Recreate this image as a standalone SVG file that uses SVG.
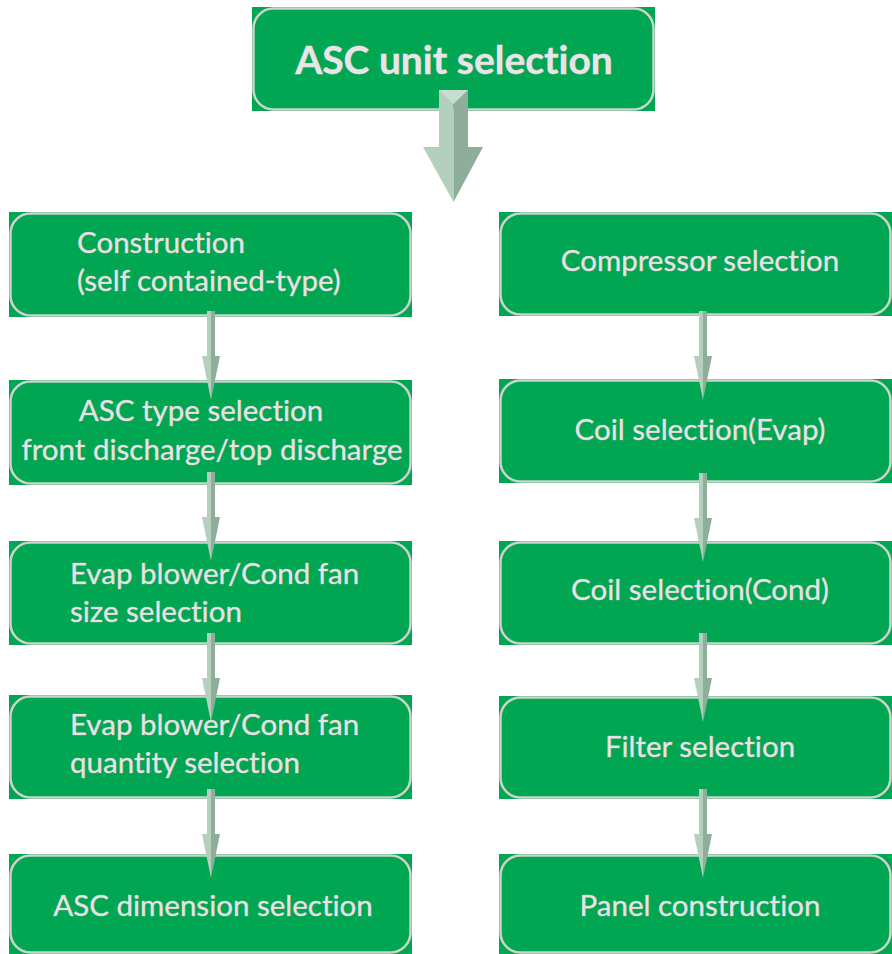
<svg xmlns="http://www.w3.org/2000/svg" xmlns:xlink="http://www.w3.org/1999/xlink" width="892" height="954" viewBox="0 0 892 954">
<style>
.bg{fill:#00a651}
.ol{fill:none;stroke:#cad3cc;stroke-width:2.5}
.t{font-family:Lato,"Open Sans","Liberation Sans",sans-serif;font-size:29.5px;fill:#e4e4e4;stroke:#aab3ad;stroke-width:0.6;paint-order:stroke;font-variant-ligatures:none}
.tb{font-family:Lato,"Open Sans","Liberation Sans",sans-serif;font-size:39px;font-weight:bold;fill:#e6e6e6;stroke:#a8b0aa;stroke-width:0.8;paint-order:stroke;font-variant-ligatures:none}
.al{fill:#b4cfbe}
.ad{fill:#8eae9a}
</style>
<defs>
<g id="sa">
<rect class="al" x="-4" y="0" width="4" height="45"/>
<rect class="ad" x="0" y="0" width="4" height="45"/>
<polygon class="al" points="-9,45 0,45 0,89"/>
<polygon class="ad" points="0,45 9,45 0,89"/>
</g>
</defs>
<g id="top">
<rect class="bg" x="252" y="7" width="403" height="104"/>
<rect class="ol" x="253.5" y="8.5" width="400" height="101" rx="20"/>
<text class="tb" x="454" y="74" text-anchor="middle">ASC unit selection</text>
</g>
<g id="n1">
<rect class="bg" x="9" y="212" width="403" height="105"/>
<rect class="ol" x="10.5" y="213.5" width="400" height="102" rx="20"/>
<text class="t" x="77" y="253">Construction</text>
<text class="t" x="77" y="291">(self contained-type)</text>
</g>
<g id="n2">
<rect class="bg" x="9" y="380" width="403" height="105"/>
<rect class="ol" x="10.5" y="381.5" width="400" height="102" rx="20"/>
<text class="t" x="201" y="421" text-anchor="middle">ASC type selection</text>
<text class="t" x="212" y="460" text-anchor="middle">front discharge/top discharge</text>
</g>
<g id="n3">
<rect class="bg" x="9" y="541" width="403" height="104"/>
<rect class="ol" x="10.5" y="542.5" width="400" height="101" rx="20"/>
<text class="t" x="70" y="584">Evap blower/Cond fan</text>
<text class="t" x="70" y="622">size selection</text>
</g>
<g id="n4">
<rect class="bg" x="9" y="695" width="403" height="104"/>
<rect class="ol" x="10.5" y="696.5" width="400" height="101" rx="20"/>
<text class="t" x="70" y="735">Evap blower/Cond fan</text>
<text class="t" x="70" y="773">quantity selection</text>
</g>
<g id="n5">
<rect class="bg" x="9" y="854" width="403" height="100"/>
<rect class="ol" x="10.5" y="855.5" width="400" height="97" rx="20"/>
<text class="t" x="213" y="916" text-anchor="middle">ASC dimension selection</text>
</g>
<g id="m1">
<rect class="bg" x="499" y="212" width="393" height="104"/>
<rect class="ol" x="500.5" y="213.5" width="390" height="101" rx="20"/>
<text class="t" x="700" y="271" text-anchor="middle">Compressor selection</text>
</g>
<g id="m2">
<rect class="bg" x="499" y="379" width="393" height="104"/>
<rect class="ol" x="500.5" y="380.5" width="390" height="101" rx="20"/>
<text class="t" x="700" y="440" text-anchor="middle">Coil selection(Evap)</text>
</g>
<g id="m3">
<rect class="bg" x="499" y="541" width="393" height="104"/>
<rect class="ol" x="500.5" y="542.5" width="390" height="101" rx="20"/>
<text class="t" x="700" y="600" text-anchor="middle">Coil selection(Cond)</text>
</g>
<g id="m4">
<rect class="bg" x="499" y="696" width="393" height="103"/>
<rect class="ol" x="500.5" y="697.5" width="390" height="100" rx="20"/>
<text class="t" x="700" y="757" text-anchor="middle">Filter selection</text>
</g>
<g id="m5">
<rect class="bg" x="499" y="854" width="393" height="100"/>
<rect class="ol" x="500.5" y="855.5" width="390" height="97" rx="20"/>
<text class="t" x="700" y="916" text-anchor="middle">Panel construction</text>
</g>
<g id="connectors">
<g id="bigarrow">
<rect class="al" x="439" y="90" width="14.5" height="57"/>
<rect class="ad" x="453.5" y="90" width="14.5" height="57"/>
<polygon class="al" points="423,147 453.5,147 453.5,202"/>
<polygon class="ad" points="453.5,147 483,147 453.5,202"/>
<polygon fill="#c7ddd0" points="439,90 468,90 453.5,104"/>
</g>
<use xlink:href="#sa" x="211" y="311"/>
<use xlink:href="#sa" x="211" y="472"/>
<use xlink:href="#sa" x="211" y="633"/>
<use xlink:href="#sa" x="211" y="789"/>
<use xlink:href="#sa" x="703" y="311"/>
<use xlink:href="#sa" x="703" y="473"/>
<use xlink:href="#sa" x="703" y="633"/>
<use xlink:href="#sa" x="703" y="789"/>
</g>
</svg>
